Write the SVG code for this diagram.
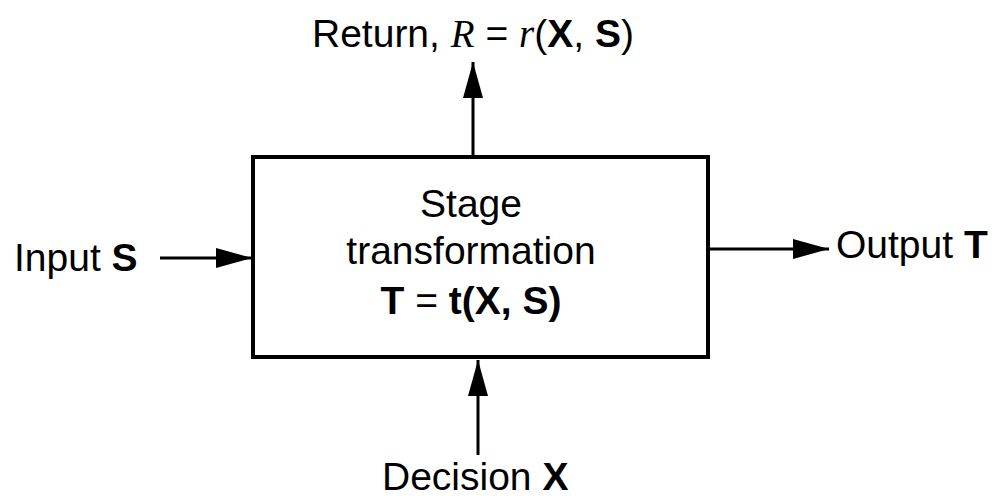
<svg xmlns="http://www.w3.org/2000/svg" width="998" height="500" viewBox="0 0 998 500">
  <style>
    .lbl { font-family: "Liberation Sans", Arial, sans-serif; font-size: 39px; fill: #000; }
    .b { font-weight: bold; }
    .n { font-weight: normal; }
    .it { font-family: "Liberation Serif", "Times New Roman", serif; font-style: italic; }
    .box { fill: #fff; stroke: #000; stroke-width: 4; }
    .wire { fill: none; stroke: #000; stroke-width: 3; }
  </style>
  <defs>
    <marker id="head" markerUnits="userSpaceOnUse" markerWidth="38" markerHeight="22" viewBox="0 0 38 22" refX="36" refY="11" orient="auto">
      <path d="M0,1 L36,11 L0,21 Z" fill="#000"/>
    </marker>
  </defs>

  <!-- central stage block -->
  <g id="stage">
    <rect class="box" x="253" y="157" width="455" height="200"/>
    <text class="lbl" text-anchor="middle" x="471" y="217">Stage</text>
    <text class="lbl" text-anchor="middle" x="471" y="264">transformation</text>
    <text class="lbl b" text-anchor="middle" x="471" y="314">T <tspan class="n">=</tspan> t(X, S)</text>
  </g>

  <!-- flows into and out of the stage -->
  <g id="connectors">
    <line class="wire" x1="160" y1="258" x2="252" y2="258" marker-end="url(#head)"/>
    <line class="wire" x1="709" y1="249" x2="829" y2="249" marker-end="url(#head)"/>
    <line class="wire" x1="473" y1="156" x2="473" y2="62" marker-end="url(#head)"/>
    <line class="wire" x1="478" y1="455" x2="478" y2="360" marker-end="url(#head)"/>
  </g>

  <g id="input">
    <text class="lbl" x="14" y="271">Input <tspan class="b">S</tspan></text>
  </g>
  <g id="output">
    <text class="lbl" x="836" y="258">Output <tspan class="b">T</tspan></text>
  </g>
  <g id="return">
    <text class="lbl" x="312" y="47">Return, <tspan class="it">R</tspan> = <tspan class="it">r</tspan>(<tspan class="b">X</tspan>, <tspan class="b">S</tspan>)</text>
  </g>
  <g id="decision">
    <text class="lbl" x="382" y="490">Decision <tspan class="b">X</tspan></text>
  </g>
</svg>
